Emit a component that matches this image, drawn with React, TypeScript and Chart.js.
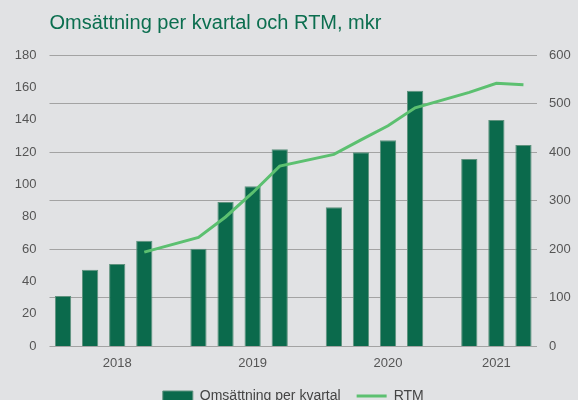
import { useEffect, useRef } from "react";
import { Chart, registerables } from "chart.js";

Chart.register(...registerables);

// 18 category slots: four years of quarters with an empty slot between years
const tickLabels = ["", "", "2018", "", "", "", "", "2019", "", "", "", "", "2020", "", "", "", "2021", ""];
const revenue = [30.9, 47.2, 50.7, 65.1, null, 60.2, 89.1, 98.8, 121.7, null, 85.8, 119.8, 127.2, 157.9, null, 115.7, 139.8, 124.3];
const rtm = [null, null, null, 193.5, null, 224, 266, 316, 371, null, 395, 425, 454, 491, null, 523, 541.5, 538.5];

const leftAxis = { min: 0, max: 180, step: 20 };
const rightAxis = { min: 0, max: 600, step: 100 };

const titleText = "Omsättning per kvartal och RTM, mkr";
const seriesNames = ["Omsättning per kvartal", "RTM"];

const BG = "#e1e2e4";
const DARK = "#0b6a4c";
const LIGHT = "#5cc070";
const FONT = "'Liberation Sans', Arial, sans-serif";

export default function App() {
  const ref = useRef<HTMLCanvasElement | null>(null);

  useEffect(() => {
    document.body.style.margin = "0";
    document.body.style.background = BG;
    document.body.style.overflow = "hidden";
    const canvas = ref.current;
    if (!canvas) return;
    const chart = new Chart(canvas, {
      data: {
        labels: tickLabels,
        datasets: [
          {
            type: "line",
            label: seriesNames[1],
            data: rtm,
            yAxisID: "y1",
            borderColor: LIGHT,
            backgroundColor: LIGHT,
            borderWidth: 3,
            pointRadius: 0,
            pointStyle: "line",
            spanGaps: true,
            tension: 0,
            order: 0,
          },
          {
            type: "bar",
            label: seriesNames[0],
            data: revenue,
            yAxisID: "y",
            backgroundColor: DARK,
            borderColor: "#5f927e",
            borderWidth: 1,
            borderSkipped: "bottom",
            barPercentage: 0.6,
            categoryPercentage: 1,
            pointStyle: "rect",
            order: 1,
          },
        ],
      },
      options: {
        animation: false,
        responsive: false,
        layout: { padding: { left: 0, right: 0, top: 0, bottom: 0 } },
        plugins: {
          title: {
            display: true,
            text: titleText,
            align: "start",
            fullSize: false,
            color: "#0b6e4f",
            font: { family: FONT, size: 20, weight: "normal", lineHeight: 1.2 },
            padding: { top: 11, bottom: 20 },
          },
          legend: {
            display: true,
            position: "bottom",
            fullSize: false,
            reverse: true,
            labels: {
              usePointStyle: true,
              pointStyleWidth: 30,
              boxHeight: 10,
              color: "#444",
              font: { family: FONT, size: 14 },
              padding: 16,
            },
          },
          tooltip: { enabled: false },
        },
        scales: {
          x: {
            type: "category",
            offset: true,
            grid: { display: false, drawTicks: false },
            border: { display: false },
            ticks: {
              autoSkip: false,
              maxRotation: 0,
              color: "#555",
              font: { family: FONT, size: 13 },
              padding: 10,
            },
            afterFit: (s: any) => {
              s.height = 27;
            },
          },
          y: {
            position: "left",
            min: leftAxis.min,
            max: leftAxis.max,
            grid: { display: false, drawTicks: false },
            border: { display: false },
            ticks: {
              stepSize: leftAxis.step,
              color: "#555",
              font: { family: FONT, size: 13 },
              padding: 13,
            },
            afterFit: (s: any) => {
              s.width = 49.5;
            },
          },
          y1: {
            position: "right",
            min: rightAxis.min,
            max: rightAxis.max,
            grid: { display: true, drawTicks: false, color: "#a3a3a3", lineWidth: 1 },
            border: { display: false },
            ticks: {
              stepSize: rightAxis.step,
              color: "#555",
              font: { family: FONT, size: 13 },
              padding: 12,
            },
            afterFit: (s: any) => {
              s.width = 41;
            },
          },
        },
      },
    } as any);
    return () => chart.destroy();
  }, []);

  return (
    <div style={{ width: 578, height: 413, background: BG }}>
      <canvas ref={ref} width={578} height={413} />
    </div>
  );
}
